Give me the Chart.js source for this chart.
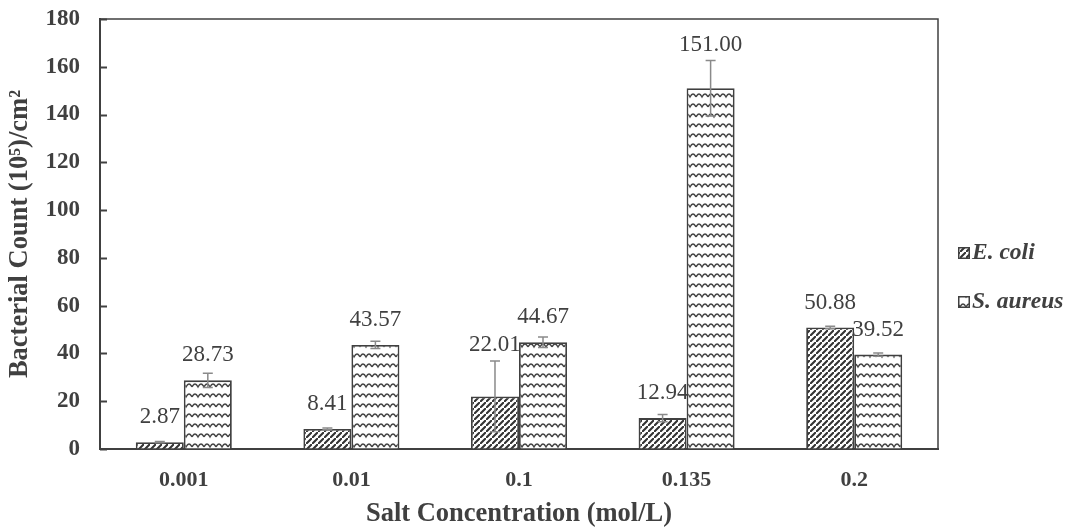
<!DOCTYPE html>
<html>
<head>
<meta charset="utf-8">
<script src="https://cdn.jsdelivr.net/npm/chart.js@4.4.0/dist/chart.umd.min.js"></script>
<style>
  html, body { margin: 0; padding: 0; background: #fff; }
  #wrap { width: 1074px; height: 530px; position: relative; }
</style>
</head>
<body>
<div id="wrap"><canvas id="c"></canvas></div>
<script>
// values
var categories = ["0.001", "0.01", "0.1", "0.135", "0.2"];
var ecoli = [2.87, 8.41, 22.01, 12.94, 50.88];
var ecoliErr = [0.3, 0.4, 14.8, 1.5, 0.5];
var saureus = [28.73, 43.57, 44.67, 151.00, 39.52];
var saureusErr = [3.0, 1.5, 2.2, 11.6, 0.7];
var seriesNames = ["E. coli", "S. aureus"];
var yTicks = [0, 20, 40, 60, 80, 100, 120, 140, 160, 180];

var INK = "#404040", SERIF = "'Liberation Serif', 'Times New Roman', serif";
var canvas = document.getElementById("c");
var ctx0 = canvas.getContext("2d");

function hatchPattern() {
  var s = 6;
  var t = document.createElement("canvas"); t.width = s; t.height = s;
  var g = t.getContext("2d");
  g.fillStyle = "#fff"; g.fillRect(0, 0, s, s);
  g.strokeStyle = "#333"; g.lineWidth = 2.1;
  g.beginPath();
  g.moveTo(-1, s + 1); g.lineTo(s + 1, -1);
  g.moveTo(-s - 1, 1); g.lineTo(1, -s - 1);
  g.moveTo(s - 1, 2 * s + 1); g.lineTo(2 * s + 1, s - 1);
  g.stroke();
  return ctx0.createPattern(t, "repeat");
}
function wavePattern() {
  var t = document.createElement("canvas"); t.width = 12; t.height = 10;
  var g = t.getContext("2d");
  g.fillStyle = "#fff"; g.fillRect(0, 0, 12, 10);
  g.strokeStyle = "#444"; g.lineWidth = 1.4;
  g.beginPath();
  g.moveTo(0, 7);
  g.quadraticCurveTo(3, 1, 6, 7);
  g.quadraticCurveTo(9, 1, 12, 7);
  g.stroke();
  return ctx0.createPattern(t, "repeat");
}
var fills = [hatchPattern(), wavePattern()];
var errs = [ecoliErr, saureusErr];

var extras = {
  id: "extras",
  afterDatasetsDraw: function (chart) {
    var c = chart.ctx, y = chart.scales.y, a = chart.chartArea;
    c.save();
    // frame top/right
    c.strokeStyle = INK; c.lineWidth = 1.5;
    c.beginPath();
    c.moveTo(a.left, a.top); c.lineTo(a.right, a.top); c.lineTo(a.right, a.bottom);
    c.stroke();
    // inward y ticks
    c.lineWidth = 2;
    yTicks.forEach(function (v) {
      var py = Math.round(y.getPixelForValue(v)) + 0.5;
      c.beginPath(); c.moveTo(a.left, py); c.lineTo(a.left + 7, py); c.stroke();
    });
    // error bars and value labels
    chart.data.datasets.forEach(function (ds, di) {
      var meta = chart.getDatasetMeta(di);
      meta.data.forEach(function (bar, i) {
        var v = ds.data[i], e = errs[di][i];
        var top = y.getPixelForValue(v + e), bot = y.getPixelForValue(v - e);
        c.strokeStyle = "#8a8a8a"; c.lineWidth = 1.5;
        c.beginPath();
        c.moveTo(bar.x, top); c.lineTo(bar.x, bot);
        c.moveTo(bar.x - 5, top); c.lineTo(bar.x + 5, top);
        c.moveTo(bar.x - 5, bot); c.lineTo(bar.x + 5, bot);
        c.stroke();
        var ly = Math.min(bar.y - 25, top - 16);
        c.fillStyle = INK; c.font = "23px " + SERIF;
        c.textAlign = "center"; c.textBaseline = "middle";
        c.fillText(v.toFixed(2), bar.x, ly);
      });
    });
    // legend
    seriesNames.forEach(function (name, i) {
      var ly = a.top + 234 + i * 49, lx = a.right + 20;
      c.fillStyle = fills[i]; c.fillRect(lx, ly - 6, 12, 12);
      c.strokeStyle = INK; c.lineWidth = 1.5; c.strokeRect(lx + 0.75, ly - 5.25, 10.5, 10.5);
      c.fillStyle = INK; c.font = "bold italic 23.5px " + SERIF;
      c.textAlign = "left"; c.textBaseline = "middle";
      c.fillText(name, lx + 14, ly);
    });
    c.restore();
  }
};

new Chart(canvas, {
  type: "bar",
  data: {
    labels: categories,
    datasets: [
      { label: seriesNames[0], data: ecoli, backgroundColor: fills[0], borderColor: INK, borderWidth: 1.8 },
      { label: seriesNames[1], data: saureus, backgroundColor: fills[1], borderColor: INK, borderWidth: 1.8 }
    ]
  },
  options: {
    responsive: true, maintainAspectRatio: false, animation: false,
    layout: { padding: { top: 19, right: 136, bottom: 0, left: 0 } },
    categoryPercentage: 0.573, barPercentage: 1,
    plugins: { legend: { display: false }, tooltip: { enabled: false } },
    scales: {
      x: {
        grid: { display: true, drawOnChartArea: false, drawTicks: false },
        border: { display: true, color: INK, width: 2 },
        ticks: { color: INK, padding: 18, font: { family: SERIF, size: 22, weight: "bold" } },
        title: { display: true, text: "Salt Concentration (mol/L)", color: INK, padding: { top: 4, bottom: 0 },
          font: { family: SERIF, size: 26.5, weight: "bold" } },
        afterFit: function (s) { s.height = 81; s.paddingLeft = 0; s.paddingRight = 0; }
      },
      y: {
        min: 0, max: 180,
        grid: { display: true, drawOnChartArea: false, drawTicks: false },
        border: { display: true, color: INK, width: 2 },
        ticks: { stepSize: 20, color: INK, padding: 20, font: { family: SERIF, size: 23, weight: "bold" } },
        title: { display: true, text: "Bacterial Count (10\u2075)/cm\u00b2", color: INK, padding: { top: 4, bottom: 0 },
          font: { family: SERIF, size: 26.5, weight: "bold" } },
        afterFit: function (s) { s.width = 100; s.paddingTop = 0; s.paddingBottom = 0; }
      }
    }
  },
  plugins: [extras]
});
</script>
</body>
</html>
